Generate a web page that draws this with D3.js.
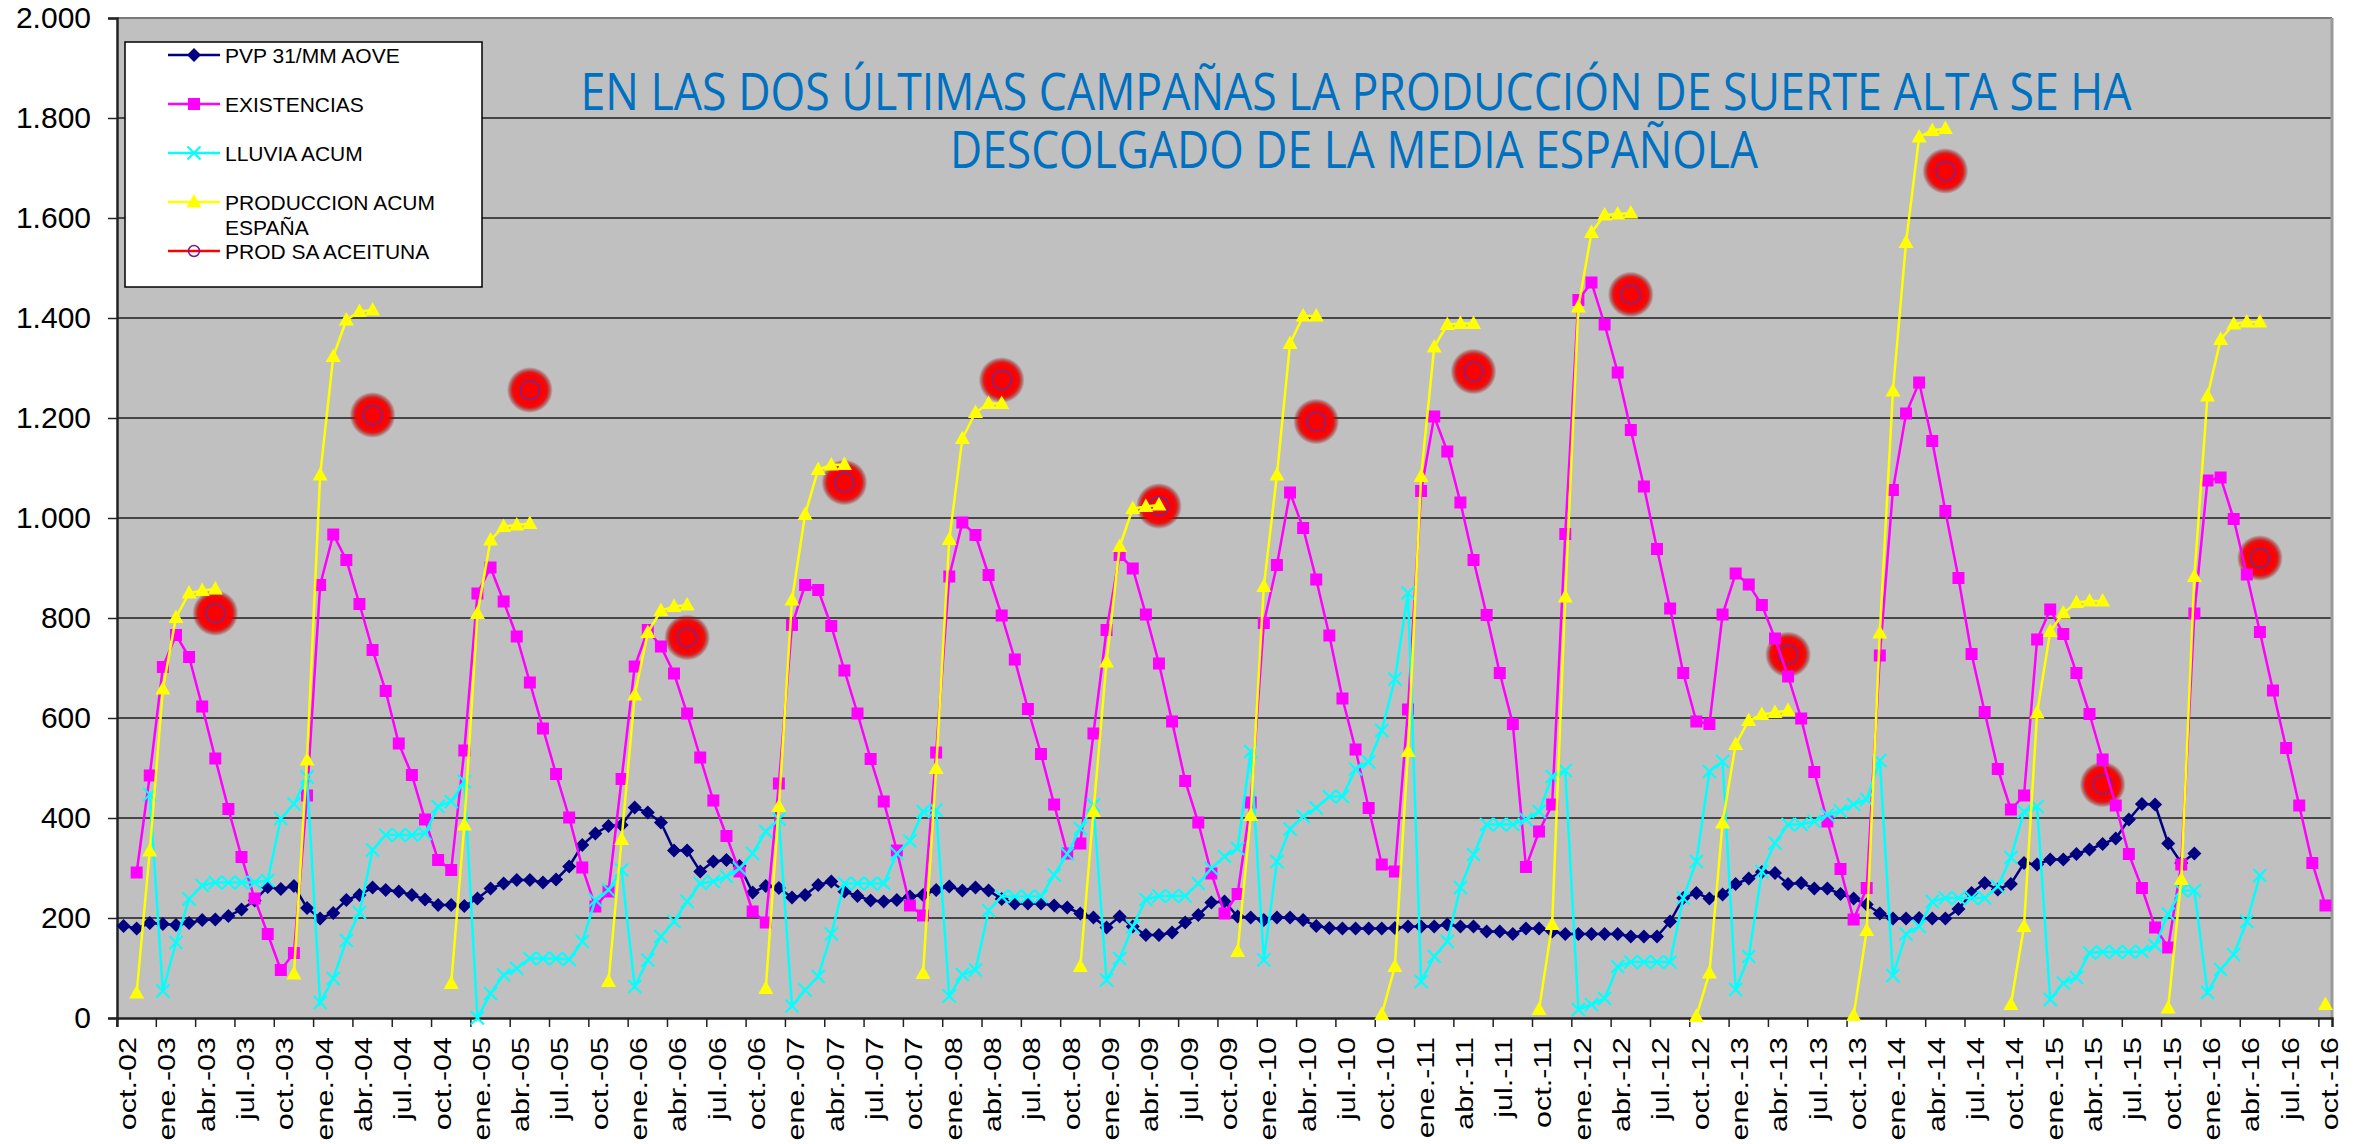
<!DOCTYPE html>
<html>
<head>
<meta charset="utf-8">
<script src="https://cdn.jsdelivr.net/npm/d3@7"></script>
<style>
body { margin: 0; background: #fff; }
svg text { font-family: "Liberation Sans", Arial, sans-serif; }
</style>
</head>
<body>
<div id="chart"></div>
<script>
// Month names used for the category axis (oct.-02 ... oct.-16)
var monthNames = ["oct.", "nov.", "dic.", "ene.", "feb.", "mar.", "abr.", "may.", "jun.", "jul.", "ago.", "sep."];
var categories = [];
for (var i = 0; i < 169; i++) {
    var yy = 2 + Math.floor((i + 9) / 12);
    categories.push(monthNames[i % 12] + "-" + (yy < 10 ? "0" + yy : yy));
}
// one label every three months
var tickLabels = categories.filter(function(d, i) { return i % 3 === 0; });
var yTicks = [0, 200, 400, 600, 800, 1000, 1200, 1400, 1600, 1800, 2000];

var titleLines = ["EN LAS DOS ÚLTIMAS CAMPAÑAS LA PRODUCCIÓN DE SUERTE ALTA SE HA",
                  "DESCOLGADO DE LA MEDIA ESPAÑOLA"];

// PVP 31/MM AOVE, from oct.-02
var pvpStart = "oct.-02";
var pvp = [184,179,190,188,186,190,196,197,204,217,235,262,
           258,264,220,199,210,236,246,261,256,253,246,237,
           226,226,224,239,259,269,276,276,271,277,303,346,
           369,384,386,421,411,391,335,335,293,313,316,304,
           251,264,260,241,246,266,273,253,244,235,233,236,
           243,246,256,263,255,261,255,238,229,229,229,225,
           221,209,201,181,203,183,166,166,171,191,206,231,
           233,203,201,196,201,201,196,184,180,179,179,179,
           179,180,183,183,183,187,183,183,173,173,168,179,
           179,173,168,168,168,168,168,163,163,163,193,240,
           250,239,247,268,279,292,290,268,270,259,259,248,
           239,227,209,199,199,200,199,199,218,250,270,257,
           268,310,307,317,317,328,337,348,359,397,428,427,
           349,310,329];

// EXISTENCIAS, from nov.-02
var existenciasStart = "nov.-02";
var existencias = [291,485,702,766,722,623,519,418,322,239,168,96,
                   130,445,866,967,916,828,736,654,549,486,397,316,
                   296,535,849,901,833,763,671,579,488,401,301,223,
                   253,478,703,776,743,689,609,521,435,364,293,213,
                   191,469,786,866,856,784,695,609,518,433,335,225,
                   205,531,883,991,966,886,805,717,618,528,427,329,
                   349,569,776,926,899,807,709,593,474,391,289,209,
                   248,431,790,906,1051,980,877,765,639,537,420,307,
                   293,617,1054,1203,1133,1031,916,806,690,588,302,373,
                   427,968,1436,1471,1387,1291,1176,1063,938,819,690,593,
                   588,807,889,867,826,759,683,599,492,393,298,197,
                   260,725,1056,1209,1271,1154,1014,880,728,612,498,417,
                   445,757,817,768,690,608,517,425,328,260,181,141,
                   307,809,1075,1081,998,887,772,655,540,425,310,225];

// LLUVIA ACUM, from dic.-02
var lluviaStart = "dic.-02";
var lluvia = [447,54,151,238,265,271,271,271,271,275,399,428,
              482,31,79,155,211,336,366,366,366,369,423,433,
              473,0,49,86,99,119,119,119,117,153,236,256,
              296,63,116,163,193,233,269,273,283,299,329,373,
              398,24,56,83,168,269,269,269,269,329,354,413,
              416,44,87,96,215,243,243,243,243,286,328,379,
              426,76,119,183,237,244,244,244,269,299,323,339,
              533,116,313,378,403,420,443,443,498,512,575,678,
              850,73,123,153,261,327,387,387,387,397,413,483,
              495,17,27,39,103,112,112,112,112,240,313,493,
              513,57,123,293,350,387,387,393,406,414,427,437,
              515,85,168,183,233,240,240,240,240,263,321,413,
              423,37,70,81,130,132,132,132,133,145,208,255,
              255,51,97,127,193,285];

// PRODUCCION ACUM ESPAÑA, whole range oct.-02 ... oct.-16 (null outside campaign)
var _ = null;
var produccion = [_,50,334,658,801,850,855,858,_,_,_,_,
                  _,88,516,1086,1323,1396,1413,1416,_,_,_,_,
                  _,69,386,809,956,983,986,989,_,_,_,_,
                  _,73,357,646,771,815,823,826,_,_,_,_,
                  _,59,423,836,1007,1097,1106,1107,_,_,_,_,
                  _,89,499,957,1159,1211,1229,1229,_,_,_,_,
                  _,103,413,712,943,1019,1023,1026,_,_,_,_,
                  _,133,405,863,1086,1349,1404,1404,_,_,_,_,
                  7,103,533,1083,1342,1387,1389,1389,_,_,_,_,
                  17,187,842,1422,1571,1606,1608,1610,_,_,_,_,
                  3,90,390,547,595,607,611,615,_,_,_,_,
                  5,175,770,1254,1551,1762,1775,1779,_,_,_,_,
                  27,183,610,773,810,831,834,834,_,_,_,_,
                  20,277,883,1244,1357,1388,1392,1392,_,_,_,_,
                  27];

// PROD SA ACEITUNA, one value per campaign
var prodSaMonths = ["may.-03","may.-04","may.-05","may.-06","may.-07","may.-08","may.-09",
                    "may.-10","may.-11","may.-12","may.-13","may.-14","may.-15","may.-16"];
var prodSa = [810,1206,1256,761,1071,1276,1024,1193,1293,1447,727,1694,467,920];

function fullSeries(start, values) {
    var out = categories.map(function() { return null; });
    var s = categories.indexOf(start);
    values.forEach(function(v, k) { out[s + k] = v; });
    return out;
}

var w = 2361;
var h = 1144;
var plotLeft = 117, plotRight = 2332, plotTop = 18, plotBottom = 1018;

var x = d3.scaleBand()
    .domain(d3.range(categories.length))
    .range([plotLeft, plotRight]);
var bw = x.bandwidth();
var y = d3.scaleLinear()
    .domain([0, 2000])
    .range([plotBottom, plotTop]);

var es = d3.formatLocale({decimal: ",", thousands: ".", grouping: [3], currency: ["", "€"]});
var fmt = es.format(",d");

var svg = d3.select("#chart")
    .append("svg")
    .attr("width", w)
    .attr("height", h);

var defs = svg.append("defs");
var glow = defs.append("radialGradient").attr("id", "glow");
glow.append("stop").attr("offset", "0%").attr("stop-color", "#ff0000");
glow.append("stop").attr("offset", "62%").attr("stop-color", "#ff0000");
glow.append("stop").attr("offset", "76%").attr("stop-color", "#e80000").attr("stop-opacity", 0.9);
glow.append("stop").attr("offset", "90%").attr("stop-color", "#a00000").attr("stop-opacity", 0.4);
glow.append("stop").attr("offset", "100%").attr("stop-color", "#a00000").attr("stop-opacity", 0);

// plot area
svg.append("rect")
    .attr("x", plotLeft).attr("y", plotTop)
    .attr("width", plotRight - plotLeft).attr("height", plotBottom - plotTop)
    .attr("fill", "#c0c0c0");

// gridlines
svg.selectAll("line.grid")
    .data(yTicks.filter(function(d) { return d > 0 && d < 2000; }))
    .enter()
    .append("line")
    .attr("class", "grid")
    .attr("x1", plotLeft).attr("x2", plotRight)
    .attr("y1", function(d) { return y(d); })
    .attr("y2", function(d) { return y(d); })
    .attr("stroke", "#1e1e1e")
    .attr("stroke-width", 1.5);

svg.append("line")
    .attr("x1", plotLeft).attr("x2", plotRight)
    .attr("y1", y(2000)).attr("y2", y(2000))
    .attr("stroke", "#7a7a7a").attr("stroke-width", 2);
svg.append("line")
    .attr("x1", plotRight).attr("x2", plotRight)
    .attr("y1", plotTop).attr("y2", plotBottom)
    .attr("stroke", "#9a9a9a").attr("stroke-width", 3);

// y axis
var yAxis = svg.append("g")
    .attr("transform", "translate(" + plotLeft + ",0)")
    .call(d3.axisLeft(y).tickValues(yTicks).tickSize(9).tickPadding(17).tickFormat(fmt));
yAxis.select(".domain").attr("stroke", "#222").attr("stroke-width", 2.5);
yAxis.selectAll(".tick line").attr("stroke", "#222").attr("stroke-width", 1.5);
yAxis.selectAll("text").style("font-size", "30px").attr("fill", "#000");

// x axis, ticks between months, labels on the month
var xAxis = svg.append("g")
    .attr("transform", "translate(0," + plotBottom + ")")
    .call(d3.axisBottom(x)
        .tickValues(d3.range(0, categories.length, 3))
        .tickSize(9)
        .tickFormat(function(d) { return tickLabels[d / 3]; }));
xAxis.select(".domain").attr("stroke", "#222").attr("stroke-width", 2.5);
xAxis.selectAll(".tick line")
    .attr("x1", -bw / 2).attr("x2", -bw / 2)
    .attr("stroke", "#222").attr("stroke-width", 1.5);
// labels read bottom-to-top, glyphs a little squeezed like the original
xAxis.selectAll(".tick text")
    .attr("transform", "rotate(-90) scale(1,0.8)")
    .attr("x", -19)
    .attr("y", 15.5)
    .attr("dy", 0)
    .style("text-anchor", "end")
    .style("font-size", "30.5px")
    .attr("fill", "#000");

function cx(i) { return x(i) + bw / 2; }

// PROD SA ACEITUNA (drawn under the lines)
var saPts = prodSaMonths.map(function(m, k) { return {i: categories.indexOf(m), v: prodSa[k]}; });
svg.selectAll("circle.saglow")
    .data(saPts).enter()
    .append("circle")
    .attr("class", "saglow")
    .attr("cx", function(d) { return cx(d.i); })
    .attr("cy", function(d) { return y(d.v); })
    .attr("r", 23)
    .attr("fill", "url(#glow)");
svg.selectAll("circle.sa")
    .data(saPts).enter()
    .append("circle")
    .attr("class", "sa")
    .attr("cx", function(d) { return cx(d.i); })
    .attr("cy", function(d) { return y(d.v); })
    .attr("r", 9.5)
    .attr("fill", "#ff0000")
    .attr("stroke", "#6e2a96")
    .attr("stroke-width", 1.6);

var series = [
    {name: "PVP 31/MM AOVE", color: "#000080", marker: "diamond", values: fullSeries(pvpStart, pvp)},
    {name: "EXISTENCIAS", color: "#ff00ff", marker: "square", values: fullSeries(existenciasStart, existencias)},
    {name: "LLUVIA ACUM", color: "#00ffff", marker: "x", values: fullSeries(lluviaStart, lluvia)},
    {name: "PRODUCCION ACUM", color: "#ffff00", marker: "triangle", values: produccion}
];

var markerPath = {
    diamond: "M0,-7L7,0L0,7L-7,0Z",
    square: "M-6,-6H6V6H-6Z",
    x: "M-6.5,-6.5L6.5,6.5M-6.5,6.5L6.5,-6.5",
    triangle: "M0,-8L7.5,5.5L-7.5,5.5Z"
};

function drawMarker(sel, s) {
    sel.append("path")
        .attr("d", markerPath[s.marker])
        .attr("fill", s.marker === "x" ? "none" : s.color)
        .attr("stroke", s.marker === "x" ? s.color : "none")
        .attr("stroke-width", 2);
}

var line = d3.line()
    .defined(function(d) { return d != null; })
    .x(function(d, i) { return cx(i); })
    .y(function(d) { return y(d); });

series.forEach(function(s) {
    var g = svg.append("g");
    g.append("path")
        .datum(s.values)
        .attr("d", line)
        .attr("fill", "none")
        .attr("stroke", s.color)
        .attr("stroke-width", 2.5);
    var pts = s.values.map(function(v, i) { return {i: i, v: v}; })
        .filter(function(d) { return d.v != null; });
    g.selectAll("g.pt")
        .data(pts).enter()
        .append("g")
        .attr("transform", function(d) { return "translate(" + cx(d.i) + "," + y(d.v) + ")"; })
        .each(function() { drawMarker(d3.select(this), s); });
});

// title
svg.selectAll("text.title")
    .data(titleLines).enter()
    .append("text")
    .attr("class", "title")
    .attr("x", function(d, i) { return i === 0 ? 1356 : 1354; })
    .attr("y", function(d, i) { return i === 0 ? 110 : 168; })
    .attr("text-anchor", "middle")
    .attr("textLength", function(d, i) { return i === 0 ? 1551 : 808; })
    .attr("lengthAdjust", "spacingAndGlyphs")
    .style("font-family", "'Open Sans', sans-serif")
    .style("font-size", "51px")
    .attr("fill", "#0070c0")
    .text(function(d) { return d; });

// legend
var legend = svg.append("g");
legend.append("rect")
    .attr("x", 125).attr("y", 42)
    .attr("width", 357).attr("height", 245)
    .attr("fill", "#fff")
    .attr("stroke", "#000")
    .attr("stroke-width", 1.5);

var legendItems = [
    {s: series[0], yy: 55, label: ["PVP 31/MM AOVE"]},
    {s: series[1], yy: 104, label: ["EXISTENCIAS"]},
    {s: series[2], yy: 153, label: ["LLUVIA ACUM"]},
    {s: series[3], yy: 202, label: ["PRODUCCION ACUM", "ESPAÑA"]},
    {s: null, yy: 251, label: ["PROD SA ACEITUNA"]}
];
legendItems.forEach(function(it) {
    var color = it.s ? it.s.color : "#ff0000";
    legend.append("line")
        .attr("x1", 168).attr("x2", 220)
        .attr("y1", it.yy).attr("y2", it.yy)
        .attr("stroke", color)
        .attr("stroke-width", 2.5);
    var m = legend.append("g").attr("transform", "translate(194," + it.yy + ")");
    if (it.s) {
        drawMarker(m, it.s);
    } else {
        m.append("circle").attr("r", 5.5).attr("fill", "none")
            .attr("stroke", "#7a1a8a").attr("stroke-width", 1.5);
    }
    it.label.forEach(function(t, k) {
        legend.append("text")
            .attr("x", 225)
            .attr("y", it.yy + k * 25)
            .attr("dy", "0.36em")
            .style("font-size", "21px")
            .attr("fill", "#000")
            .text(t);
    });
});
</script>
</body>
</html>
